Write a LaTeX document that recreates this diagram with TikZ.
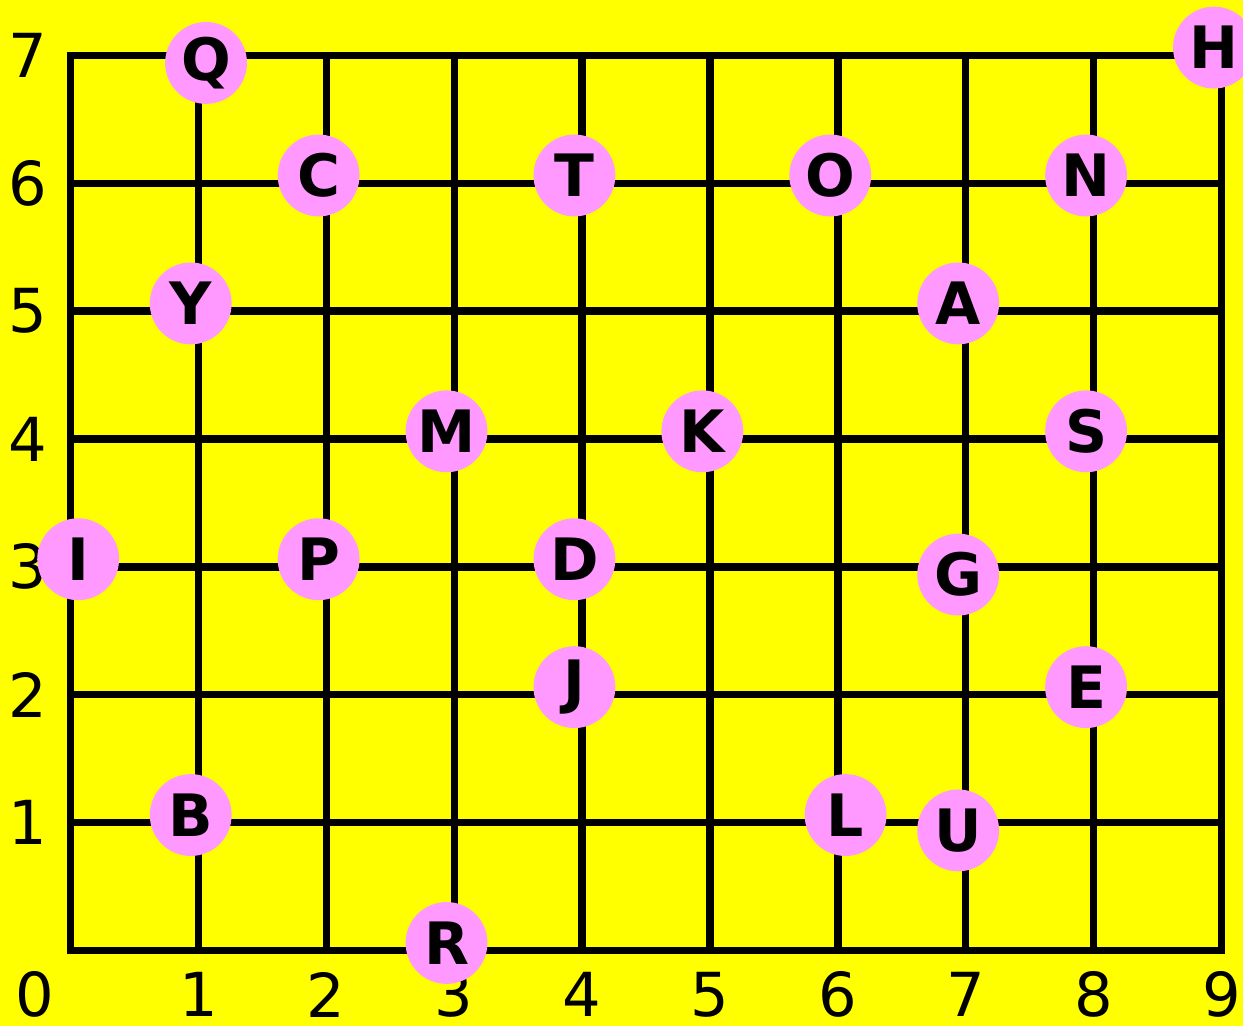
\documentclass[tikz,border=0pt]{standalone}
\usepackage{fontspec}
\setmainfont{DejaVu Sans}
\usetikzlibrary{positioning}
\definecolor{bgyellow}{rgb}{1.00, 1.00, 0.00}
\definecolor{spotpink}{rgb}{1.00, 0.60, 1.00}
\tikzstyle{every node}=[inner sep=0pt]
\tikzset{
  spot/.style={circle, fill=spotpink, minimum size=0.64cm, inner sep=0pt, font=\fontsize{13}{16}\selectfont\bfseries},
  axis_label/.style={font=\fontsize{13.5}{16}\selectfont},
  gridline/.style={line width=0.057cm, line join=miter, line cap=rect},
}

\begin{document}
\begin{tikzpicture}
    \fill[bgyellow] (-0.551,-0.590) rectangle (9.167,7.432);
    \useasboundingbox (-0.551,-0.590) rectangle (9.167,7.432);

    % the grid
    \draw[gridline] (0,0) grid (9,7);

    % numbers along the sides
    \node[axis_label] (x0) at (-0.28,-0.345) {0};
    \foreach \i in {1,...,9}
        \node[axis_label] (x\i) at (\i,-0.345) {\i};
    \foreach \j in {1,...,7}
        \node[axis_label] (y\j) at (-0.33,\j) {\j};

    % the letters
    \node[spot] (nQ) at (1.06,6.94) {Q};
    \node[spot] (nH) at (8.94,7.06) {H};

    \node[spot] (nC) at (1.94,6.06) {C};
    \node[spot] (nT) at (3.94,6.06) {T};
    \node[spot] (nO) at (5.94,6.06) {O};
    \node[spot] (nN) at (7.94,6.06) {N};

    \node[spot] (nY) at (0.94,5.06) {Y};
    \node[spot] (nA) at (6.94,5.06) {A};

    \node[spot] (nM) at (2.94,4.06) {M};
    \node[spot] (nK) at (4.94,4.06) {K};
    \node[spot] (nS) at (7.94,4.06) {S};

    \node[spot] (nI) at (0.06,3.06) {I};
    \node[spot] (nP) at (1.94,3.06) {P};
    \node[spot] (nD) at (3.94,3.06) {D};
    \node[spot] (nG) at (6.94,2.94) {G};

    \node[spot] (nJ) at (3.94,2.06) {J};
    \node[spot] (nE) at (7.94,2.06) {E};

    \node[spot] (nB) at (0.94,1.06) {B};
    \node[spot] (nL) at (6.06,1.06) {L};
    \node[spot] (nU) at (6.94,0.94) {U};

    \node[spot] (nR) at (2.94,0.06) {R};

\end{tikzpicture}
\end{document}
